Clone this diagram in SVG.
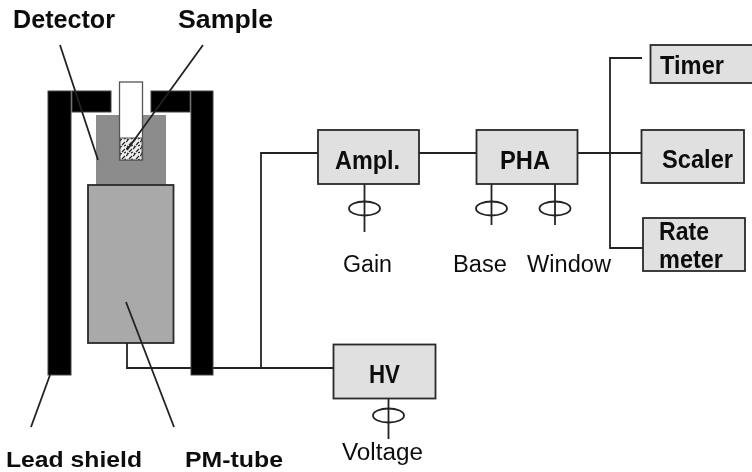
<svg xmlns="http://www.w3.org/2000/svg" width="752" height="472" viewBox="0 0 752 472">
<style>
text{font-family:"Liberation Sans",Arial,sans-serif;fill:#111}
.b{font-weight:bold;font-size:25px}
.bs{font-weight:bold;font-size:22.500px}
.n{font-size:23px}
.box{fill:#e0e0e0;stroke:#2a2a2a;stroke-width:1.800}
.lead{fill:#000;stroke:#444;stroke-width:1}
.w{fill:none;stroke:#222;stroke-width:1.800}
</style>
<defs>
<pattern id="speck" width="7" height="7" patternUnits="userSpaceOnUse"><rect width="7" height="7" fill="#eee"/><path d="M0 2L2 0M3 5L6 2M1 6L3 7M5 6L7 5" stroke="#222" stroke-width="1.200"/></pattern>
<filter id="soft" x="0" y="0" width="1" height="1"><feGaussianBlur stdDeviation="0.45"/></filter>
</defs>
<rect width="752" height="472" fill="#fff"/>
<g filter="url(#soft)">
<g id="detector"><rect x="96" y="115" width="70" height="70" fill="#8c8c8c"/></g>
<g id="pm-tube"><rect x="88" y="185" width="85.500" height="158" fill="#a9a9a9" stroke="#2a2a2a" stroke-width="1.800"/></g>
<g id="sample"><rect x="119.500" y="82" width="23" height="78" fill="#fff" stroke="#555" stroke-width="1.300"/><rect x="120" y="138" width="22" height="22" fill="url(#speck)" stroke="#555"/></g>
<g id="connectors">
<path class="w" d="M127 343V368H333M261 368V153H318M419 153H476.500M577 153H641M642 58H610V248H643"/>
<path class="w" d="M364.500 184V232M491.500 184V225M555 184V225M388.500 398V439"/>
<ellipse class="w" cx="364.500" cy="208.500" rx="15.500" ry="7"/>
<ellipse class="w" cx="491.500" cy="208.500" rx="15.500" ry="7"/>
<ellipse class="w" cx="555" cy="208.500" rx="15.500" ry="7"/>
<ellipse class="w" cx="388.500" cy="415.500" rx="15.500" ry="7"/>
</g>
<g id="lead-shield">
<rect class="lead" x="48" y="91" width="23" height="284"/><rect class="lead" x="191" y="91" width="22" height="284"/>
<rect class="lead" x="72" y="91" width="39" height="21"/><rect class="lead" x="151" y="91" width="39" height="21"/>
</g>
<g id="leaders">
<path class="w" d="M60 45L98 160M203 45L127 150M50 375L31 427M126 302L174 427"/>
</g>
<g id="ampl"><rect class="box" x="318" y="130" width="101" height="54"/><text class="b" x="335" y="169" textLength="65" lengthAdjust="spacingAndGlyphs">Ampl.</text></g>
<g id="pha"><rect class="box" x="476.500" y="130" width="101" height="54"/><text class="b" x="500" y="169" textLength="50" lengthAdjust="spacingAndGlyphs">PHA</text></g>
<g id="timer"><rect class="box" x="650.500" y="45" width="110" height="38"/><text class="b" x="660" y="74" textLength="64" lengthAdjust="spacingAndGlyphs">Timer</text></g>
<g id="scaler"><rect class="box" x="641.500" y="130" width="102.500" height="53"/><text class="b" x="662" y="168" textLength="71" lengthAdjust="spacingAndGlyphs">Scaler</text></g>
<g id="rate-meter"><rect class="box" x="643" y="218" width="102" height="53"/><text class="b" x="659" y="240" textLength="50" lengthAdjust="spacingAndGlyphs">Rate</text><text class="b" x="659" y="268" textLength="64" lengthAdjust="spacingAndGlyphs">meter</text></g>
<g id="hv"><rect class="box" x="333.500" y="344.500" width="102" height="54"/><text class="b" x="369" y="383" textLength="31" lengthAdjust="spacingAndGlyphs">HV</text></g>
<g id="labels">
<text class="b" x="13" y="28" textLength="102" lengthAdjust="spacingAndGlyphs">Detector</text>
<text class="b" x="178" y="28" textLength="95" lengthAdjust="spacingAndGlyphs">Sample</text>
<text class="bs" x="6" y="467" textLength="136" lengthAdjust="spacingAndGlyphs">Lead shield</text>
<text class="bs" x="185" y="467" textLength="98" lengthAdjust="spacingAndGlyphs">PM-tube</text>
<text class="n" x="343" y="272" textLength="49" lengthAdjust="spacingAndGlyphs">Gain</text>
<text class="n" x="453" y="272" textLength="54" lengthAdjust="spacingAndGlyphs">Base</text>
<text class="n" x="527" y="272" textLength="84" lengthAdjust="spacingAndGlyphs">Window</text>
<text class="n" x="342" y="460" textLength="81" lengthAdjust="spacingAndGlyphs">Voltage</text>
</g>
</g>
</svg>
